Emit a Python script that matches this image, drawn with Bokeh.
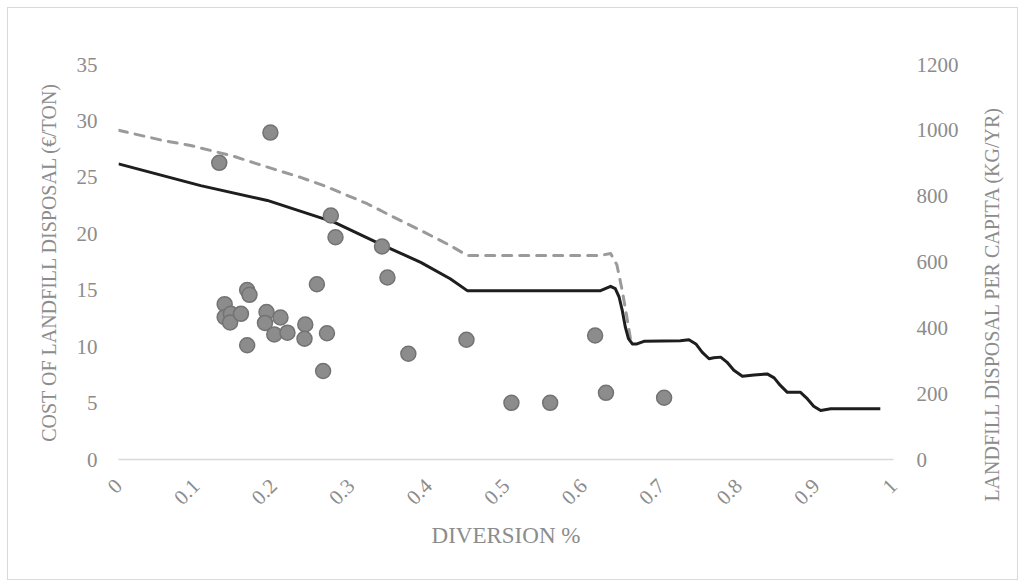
import math
from bokeh.plotting import figure
from bokeh.models import Range1d, LinearAxis, FixedTicker, CustomJSTickFormatter, Label
from bokeh.embed import file_html
from bokeh.resources import INLINE

# Scatter: diversion share vs cost of landfill disposal (EUR/ton), left axis
scatter_div = [0.130, 0.196, 0.274, 0.280, 0.340, 0.347, 0.256, 0.166, 0.169, 0.137,
               0.137, 0.145, 0.144, 0.158, 0.191, 0.189, 0.209, 0.201, 0.218, 0.241,
               0.240, 0.269, 0.166, 0.264, 0.374, 0.449, 0.507, 0.557, 0.615, 0.629, 0.704]
scatter_cost = [26.29, 28.97, 21.62, 19.69, 18.87, 16.13, 15.53, 15.02, 14.59, 13.76,
                12.61, 12.91, 12.14, 12.91, 13.07, 12.10, 12.58, 11.08, 11.24, 11.96,
                10.70, 11.19, 10.12, 7.84, 9.37, 10.61, 5.02, 5.02, 10.99, 5.91, 5.47]

# Solid line: landfill disposal per capita (kg/yr), right axis
solid_div = [0.000, 0.106, 0.192, 0.278, 0.342, 0.390, 0.428, 0.450, 0.596, 0.622,
             0.635, 0.641, 0.646, 0.650, 0.654, 0.658, 0.663, 0.669, 0.678, 0.725,
             0.736, 0.745, 0.753, 0.762, 0.768, 0.777, 0.785, 0.794, 0.805, 0.820,
             0.837, 0.846, 0.854, 0.863, 0.871, 0.880, 0.889, 0.897, 0.906, 0.919, 0.983]
solid_kg = [898, 832, 787, 721, 650, 599, 549, 513, 513, 513,
            526, 519, 493, 453, 402, 367, 351, 351, 359, 361,
            364, 351, 326, 306, 309, 311, 296, 271, 253, 257,
            260, 248, 225, 204, 204, 204, 184, 162, 149, 154, 154]

# Dashed line: landfill disposal per capita (kg/yr), right axis
dash_div = [0.000, 0.058, 0.093, 0.149, 0.179, 0.235, 0.265, 0.321, 0.351, 0.390,
            0.428, 0.450, 0.622, 0.635, 0.643, 0.650, 0.656, 0.661]
dash_kg = [1000, 969, 954, 921, 898, 857, 832, 777, 741, 696,
           650, 620, 620, 626, 592, 513, 432, 361]

x_ticks = [0, 0.1, 0.2, 0.3, 0.4, 0.5, 0.6, 0.7, 0.8, 0.9, 1]
left_ticks = [0, 5, 10, 15, 20, 25, 30, 35]
right_ticks = [0, 200, 400, 600, 800, 1000, 1200]

FONT = "Liberation Serif"
TXT = "#8c8c8c"

p = figure(width=1009, height=571, frame_width=775, frame_height=395,
           min_border_left=110, min_border_right=124, min_border_top=56, min_border_bottom=120,
           x_range=Range1d(0, 1), y_range=Range1d(0, 35),
           output_backend="svg", toolbar_location=None,
           x_axis_location=None, y_axis_location=None)
p.styles = {"border": "1px solid #d9d9d9", "margin-left": "7px", "margin-top": "7px"}
p.outline_line_color = None
p.grid.visible = False
p.extra_y_ranges = {"kg": Range1d(0, 1200)}

def style_axis(ax):
    ax.major_tick_line_color = None
    ax.minor_tick_line_color = None
    ax.major_tick_out = 0
    ax.major_tick_in = 0
    ax.major_label_text_font = FONT
    ax.major_label_text_font_size = "21px"
    ax.major_label_text_color = TXT
    ax.axis_label_text_font = FONT
    ax.axis_label_text_font_size = "20px"
    ax.axis_label_text_font_style = "normal"
    ax.axis_label_text_color = TXT

xax = LinearAxis(axis_label="DIVERSION %", ticker=FixedTicker(ticks=x_ticks),
                 formatter=CustomJSTickFormatter(code="return String(Math.round(tick*10)/10);"))
style_axis(xax)
xax.axis_label_text_font_size = "23px"
xax.axis_line_color = "#d9d9d9"
xax.axis_line_width = 1.5
xax.major_label_orientation = math.pi / 4
xax.major_label_standoff = 23
xax.axis_label_standoff = 9
p.add_layout(xax, "below")

lax = LinearAxis(axis_label="COST OF LANDFILL DISPOSAL (€/TON)", ticker=FixedTicker(ticks=left_ticks))
style_axis(lax)
lax.axis_line_color = None
lax.major_label_standoff = 21
lax.axis_label_standoff = 14
p.add_layout(lax, "left")

rax = LinearAxis(y_range_name="kg", ticker=FixedTicker(ticks=right_ticks))
style_axis(rax)
rax.axis_line_color = None
rax.major_label_standoff = 23
p.add_layout(rax, "right")

# right-axis title, reading bottom to top like the left one
p.add_layout(Label(x=30, y=156, x_units="screen", y_units="screen",
                   text="LANDFILL DISPOSAL PER CAPITA (KG/YR)",
                   angle=math.pi / 2, text_align="center", text_baseline="middle",
                   text_font=FONT, text_font_size="20px", text_color=TXT), "right")

p.line(dash_div, dash_kg, y_range_name="kg", line_color="#9a9a9a", line_width=3,
       line_dash="9 8", line_cap="round", line_join="round")
p.line(solid_div, solid_kg, y_range_name="kg", line_color="#1e1e1e", line_width=3,
       line_join="round")
p.scatter(scatter_div, scatter_cost, size=15, fill_color="#8c8c8c", line_color="#737373",
          line_width=1.5)

open("out.html", "w").write(file_html(p, INLINE))
